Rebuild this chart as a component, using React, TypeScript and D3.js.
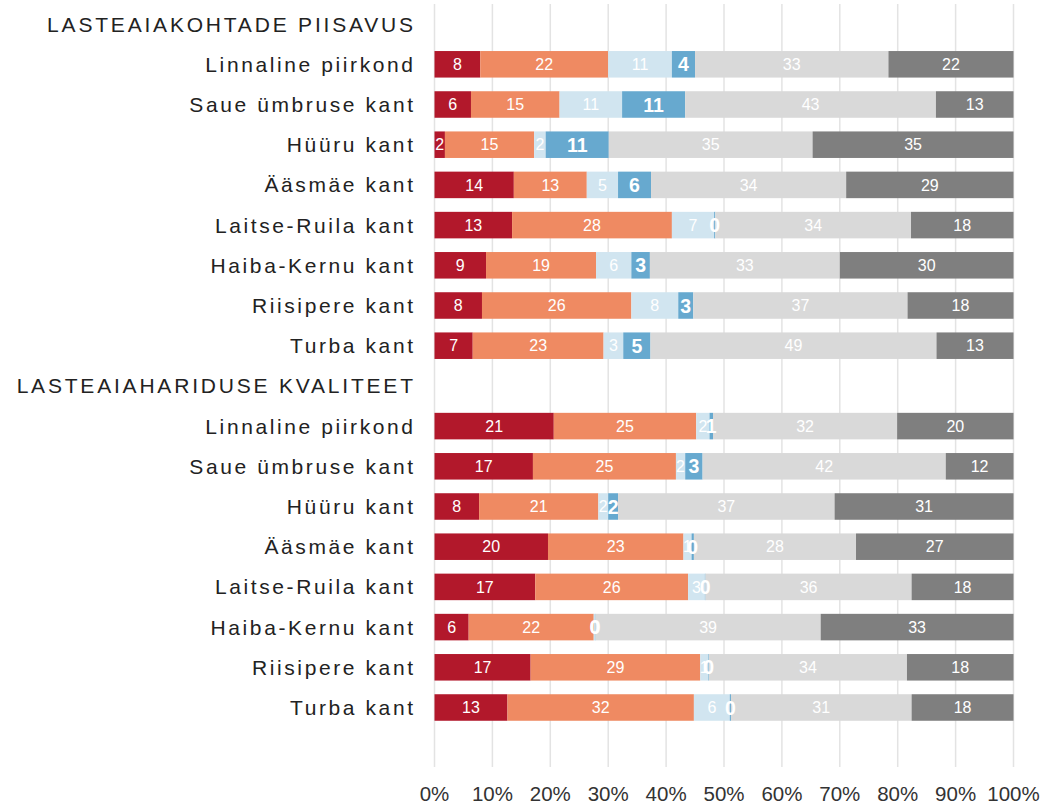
import React from "react";
import * as d3 from "d3";

// two survey blocks, each with the same eight districts
const sections = ["LASTEAIAKOHTADE PIISAVUS", "LASTEAIAHARIDUSE KVALITEET"];
const districts = [
  "Linnaline piirkond",
  "Saue ümbruse kant",
  "Hüüru kant",
  "Ääsmäe kant",
  "Laitse-Ruila kant",
  "Haiba-Kernu kant",
  "Riisipere kant",
  "Turba kant",
];

// answer shares in %, first 8 = block 1, last 8 = block 2
const veryBad = [7.9, 6.3, 1.8, 13.7, 13.4, 8.9, 8.2, 6.6, 20.6, 17.0, 7.7, 19.6, 17.4, 5.9, 16.6, 12.6];
const bad = [22.1, 15.3, 15.4, 12.6, 27.6, 19.0, 25.8, 22.6, 24.6, 24.7, 20.6, 23.4, 26.4, 21.6, 29.3, 32.2];
const good = [11.0, 10.8, 2.0, 5.4, 7.3, 6.1, 8.1, 3.4, 2.3, 1.6, 1.7, 1.4, 2.9, 0.2, 1.4, 6.2];
const veryGood = [4.0, 10.9, 10.9, 5.7, 0.2, 3.2, 2.6, 4.7, 0.6, 3.0, 1.7, 0.4, 0.1, 0.1, 0.1, 0.2];
const neutral = [33.4, 43.3, 35.2, 33.7, 33.8, 32.8, 37.0, 49.4, 31.8, 42.0, 37.4, 28.0, 35.6, 38.9, 34.2, 31.2];
const dontKnow = [21.6, 13.4, 34.7, 28.9, 17.7, 30.0, 18.3, 13.3, 20.1, 11.7, 30.9, 27.2, 17.6, 33.3, 18.4, 17.6];

const xTicks = [0, 10, 20, 30, 40, 50, 60, 70, 80, 90, 100];

const keys = ["veryBad", "bad", "good", "veryGood", "neutral", "dontKnow"];
const colors = ["#b2182b", "#ef8a62", "#d1e5f0", "#67a9cf", "#d9d9d9", "#7f7f7f"];
const series = [veryBad, bad, good, veryGood, neutral, dontKnow];

const W = 1043;
const H = 803;

export default function App() {
  // row order: header, 8 rows, header, 8 rows
  const rows: { id: string; label: string; header: boolean; idx: number }[] = [];
  sections.forEach((s, si) => {
    rows.push({ id: "h" + si, label: s, header: true, idx: -1 });
    districts.forEach((d, di) => {
      rows.push({ id: "r" + (si * 8 + di), label: d, header: false, idx: si * 8 + di });
    });
  });

  const data = d3.range(veryBad.length).map((i) => {
    const o: any = { idx: i };
    keys.forEach((k, ki) => (o[k] = series[ki][i]));
    return o;
  });
  const stacked = d3.stack().keys(keys)(data);

  const x = d3.scaleLinear().domain([0, 100]).range([434.5, 1013.5]);
  const y = d3
    .scaleBand()
    .domain(rows.map((r) => r.id))
    .range([4, 727.6])
    .paddingInner(0.34)
    .paddingOuter(0.17);
  const bw = y.bandwidth();

  return (
    <svg
      width={W}
      height={H}
      style={{ position: "absolute", left: 0, top: 0, fontFamily: "'Liberation Sans', Arial, sans-serif" }}
    >
      {xTicks.map((t) => (
        <line key={t} x1={x(t)} x2={x(t)} y1={4} y2={767} stroke="#e3e3e3" strokeWidth={1.5} />
      ))}
      {rows.map((r) => {
        const ls = r.header ? 2.8 : 2.6;
        return (
          <text
            key={"l" + r.id}
            x={413 + ls}
            y={(y(r.id) || 0) + bw / 2}
            dy="0.36em"
            textAnchor="end"
            fontSize={21}
            letterSpacing={ls}
            fill="#222"
          >
            {r.label}
          </text>
        );
      })}
      {stacked.map((s, si) => (
        <g key={s.key} fill={colors[si]}>
          {s.map((d: any) => (
            <rect
              key={d.data.idx}
              x={x(d[0])}
              y={y("r" + d.data.idx)}
              width={x(d[1]) - x(d[0])}
              height={bw}
            />
          ))}
        </g>
      ))}
      {stacked.map((s, si) => (
        <g key={"t" + s.key} fill="#fff" textAnchor="middle">
          {s.map((d: any) => (
            <text
              key={d.data.idx}
              x={x((d[0] + d[1]) / 2)}
              y={(y("r" + d.data.idx) || 0) + bw / 2}
              dy="0.36em"
              fontSize={si === 3 ? 19.5 : 16}
              fontWeight={si === 3 ? "bold" : "normal"}
            >
              {Math.round(d[1] - d[0])}
            </text>
          ))}
        </g>
      ))}
      {xTicks.map((t) => (
        <text key={"x" + t} x={x(t)} y={800.5} textAnchor="middle" fontSize={20.5} fill="#333">
          {t + "%"}
        </text>
      ))}
    </svg>
  );
}
